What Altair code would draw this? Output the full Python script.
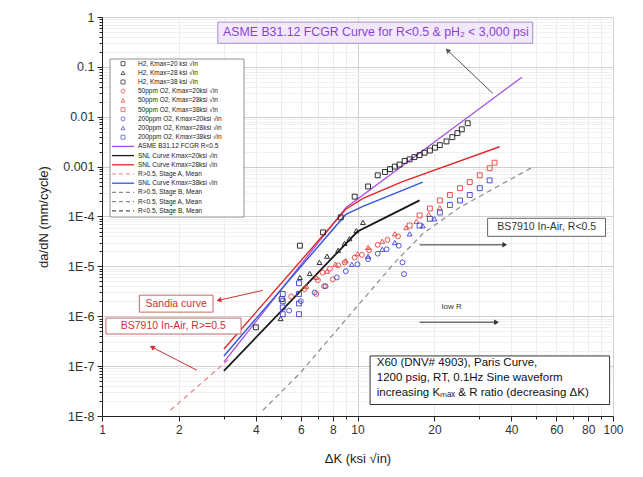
import altair as alt
import pandas as pd

# ---------------- axes ----------------
X_TICKS = [1, 2, 3, 4, 5, 6, 7, 8, 9, 10, 20, 30, 40, 50, 60, 70, 80, 90, 100]
X_LABELED = [1, 2, 4, 6, 8, 10, 20, 40, 60, 80, 100]
Y_DECADES = [1e-8, 1e-7, 1e-6, 1e-5, 1e-4, 1e-3, 1e-2, 1e-1, 1]
Y_TICKS = Y_DECADES + [m * d for d in Y_DECADES[:-1] for m in range(2, 10)]

# ---------------- scatter data (dK ksi*sqrt(in), da/dN mm/cycle) ----------------
H2_K20_DK = [4.0, 5.05, 5.95, 7.33, 8.6, 9.75, 11.0, 12.0]
H2_K20_DA = [6e-7, 2.2e-6, 2.6e-5, 4.8e-5, 9.6e-5, 2.5e-4, 4.0e-4, 6.7e-4]
H2_K28_DK = [5.0, 5.95, 6.5, 7.1, 7.6, 8.4, 8.9, 9.3, 9.9, 10.5]
H2_K28_DA = [9e-7, 6e-6, 7.2e-6, 1.2e-5, 1.6e-5, 2.1e-5, 2.9e-5, 3.6e-5, 5.2e-5, 7.6e-5]
H2_K38_DK = [12.8, 13.4, 14.0, 14.6, 15.3, 16.0, 16.7, 17.5, 18.3, 19.2, 20.1, 21.0, 22.3, 23.5, 24.6, 25.6, 27.0]
H2_K38_DA = [7.8e-4, 8.9e-4, 1.0e-3, 1.1e-3, 1.3e-3, 1.4e-3, 1.55e-3, 1.7e-3, 1.9e-3, 2.1e-3, 2.4e-3, 2.7e-3, 3.2e-3, 3.9e-3, 4.7e-3, 5.6e-3, 7.4e-3]
O50_K20_DK = [5.5, 6.2, 6.9, 7.0, 7.3, 7.4, 7.8, 8.0, 8.4, 8.9, 9.75, 10.4, 11.1, 12.0, 13.1, 14.4]
O50_K20_DA = [2.5e-6, 3.5e-6, 2.8e-6, 5.3e-6, 7.5e-6, 4e-6, 9e-6, 5.5e-6, 1.05e-5, 1.2e-5, 1.5e-5, 1.7e-5, 2.1e-5, 2.7e-5, 3.4e-5, 4.0e-5]
O50_K28_DK = [6.3, 6.9, 7.6, 8.2, 9.0, 10.0, 11.0, 12.5, 14.0, 15.5, 17.0, 19.0, 21.0]
O50_K28_DA = [4e-6, 6e-6, 8e-6, 1.1e-5, 1.3e-5, 1.8e-5, 2.4e-5, 3.2e-5, 4.5e-5, 6e-5, 8e-5, 1.1e-4, 1.5e-4]
O50_K38_DK = [16.0, 17.5, 19.2, 21.0, 23.0, 25.2, 27.5, 30.1, 32.9, 34.4]
O50_K38_DA = [6.6e-5, 1.05e-4, 1.45e-4, 2.1e-4, 2.7e-4, 3.7e-4, 4.9e-4, 6.7e-4, 9.3e-4, 1.2e-3]
O200_K20_DK = [5.4, 6.0, 6.8, 7.5, 8.3, 9.0, 10.0, 11.0, 12.0, 13.0, 14.5, 15.0, 15.2]
O200_K20_DA = [1.3e-6, 2e-6, 3e-6, 4e-6, 6e-6, 8e-6, 1.1e-5, 1.4e-5, 1.8e-5, 2.2e-5, 2.6e-5, 1.2e-5, 7e-6]
O200_K28_DK = [9.5, 11.0, 12.5, 14.0, 16.0, 18.0, 20.0]
O200_K28_DA = [1.1e-5, 1.6e-5, 2.2e-5, 3e-5, 4.5e-5, 6.5e-5, 9e-5]
O200_K38_DK = [5.1, 5.1, 5.1, 5.1, 5.9, 5.9, 5.9, 5.9, 17.5, 19.2, 21.0, 23.0, 25.2, 27.5, 30.1, 32.9]
O200_K38_DA = [1.1e-6, 1.5e-6, 2.0e-6, 2.8e-6, 1.1e-6, 1.8e-6, 2.8e-6, 4.6e-6, 6.6e-5, 9e-5, 1.2e-4, 1.7e-4, 2.1e-4, 2.7e-4, 3.7e-4, 5.3e-4]

# ---------------- curves ----------------
ASME_DK = [3.0, 9.0, 44.0]
ASME_DA = [1.2e-7, 1.5e-4, 0.062]
SNL20_DK = [3.0, 10.0, 12.0, 17.5]
SNL20_DA = [8e-8, 5e-5, 8e-5, 2.1e-4]
SNL28_DK = [3.0, 9.0, 10.5, 15.0, 36.0]
SNL28_DA = [2.2e-7, 1.4e-4, 2.3e-4, 5e-4, 2.5e-3]
SNL38_DK = [3.0, 9.0, 10.5, 18.0]
SNL38_DA = [1.6e-7, 1.1e-4, 1.6e-4, 4.9e-4]
RHI_A_DK = [1.85, 3.2]
RHI_A_DA = [1.3e-8, 1.5e-7]
RLO_DK = [4.26, 5.95, 14.0, 18.0, 25.0, 48.5]
RLO_DA = [1.3e-8, 7.2e-8, 1.2e-5, 4.5e-5, 1.5e-4, 9.8e-4]

LEGEND_LABELS = [
    "H2, Kmax=20 ksi \u221ain", "H2, Kmax=28 ksi \u221ain", "H2, Kmax=38 ksi \u221ain",
    "50ppm O2, Kmax=20ksi \u221ain", "50ppm O2, Kmax=28ksi \u221ain", "50ppm O2, Kmax=38ksi \u221ain",
    "200ppm O2, Kmax=20ksi \u221ain", "200ppm O2, Kmax=28ksi \u221ain", "200ppm O2, Kmax=38ksi \u221ain",
    "ASME B31.12 FCGR R<0.5", "SNL Curve Kmax=20ksi \u221ain", "SNL Curve Kmax=28ksi \u221ain",
    "R>0.5, Stage A, Mean", "SNL Curve Kmax=38ksi \u221ain", "R>0.5, Stage B, Mean",
    "R<0.5, Stage A, Mean", "R<0.5, Stage B, Mean",
]

BLACK, RED, BLUE, PURPLE, PINK, GRAY = "#1a1a1a", "#e8413c", "#4040d8", "#a64ee0", "#e88080", "#8a8a8a"

scatter = [
    (H2_K20_DK, H2_K20_DA, BLACK, "square"), (H2_K28_DK, H2_K28_DA, BLACK, "triangle-up"),
    (H2_K38_DK, H2_K38_DA, BLACK, "square"),
    (O50_K20_DK, O50_K20_DA, RED, "circle"), (O50_K28_DK, O50_K28_DA, RED, "triangle-up"),
    (O50_K38_DK, O50_K38_DA, RED, "square"),
    (O200_K20_DK, O200_K20_DA, BLUE, "circle"), (O200_K28_DK, O200_K28_DA, BLUE, "triangle-up"),
    (O200_K38_DK, O200_K38_DA, BLUE, "square"),
]
rows = []
for i, (dk, da, c, s) in enumerate(scatter):
    for a, b in zip(dk, da):
        rows.append(dict(s=i, dk=a, da=b, col=c, shp=s))
df_pts = pd.DataFrame(rows)

solid = [(ASME_DK, ASME_DA, PURPLE, 1.3), (SNL28_DK, SNL28_DA, "#e02828", 1.4),
         (SNL38_DK, SNL38_DA, "#3355dd", 1.4), (SNL20_DK, SNL20_DA, BLACK, 1.8)]
rows = []
for i, (dk, da, c, w) in enumerate(solid):
    for a, b in zip(dk, da):
        rows.append(dict(s=i, dk=a, da=b, col=c, w=w))
df_solid = pd.DataFrame(rows)

dashed = [(RHI_A_DK, RHI_A_DA, PINK), (RLO_DK, RLO_DA, GRAY)]
rows = []
for i, (dk, da, c) in enumerate(dashed):
    for a, b in zip(dk, da):
        rows.append(dict(s=i, dk=a, da=b, col=c))
df_dash = pd.DataFrame(rows)

# ---------------- annotations ----------------
df_box = pd.DataFrame(dict(
    x1=[2.84, 1.40, 1.036, 32.3, 11.2], x2=[48.5, 2.72, 3.50, 93.5, 97.0],
    y1=[0.79, 2.65e-6, 9.2e-7, 9.2e-5, 1.6e-7], y2=[0.297, 1.21e-6, 4.4e-7, 4.0e-5, 1.7e-8],
    fill=["#f1e8fc", "#ffffff", "#ffffff", "#ffffff", "#ffffff"],
    stroke=["#a58cc8", "#c06a6a", "#c06a6a", "#666666", "#333333"],
))
df_txt = pd.DataFrame(dict(
    dk=[11.8, 1.95, 1.90, 55.0, 23.4],
    da=[0.49, 1.73e-6, 6.3e-7, 6.1e-5, 1.5e-6],
    t=["ASME B31.12 FCGR Curve for R<0.5 & pH\u2082 < 3,000 psi", "Sandia curve",
       "BS7910 In-Air, R>=0.5", "BS7910 In-Air, R<0.5", "low R"],
    col=["#8e3fd6", "#d03030", "#d03030", "#333333", "#333333"],
    fs=[12.3, 10.5, 10.5, 10.5, 8],
))
df_info = pd.DataFrame(dict(
    dk=[11.9, 11.9, 11.9], da=[1.15e-7, 5.8e-8, 2.9e-8],
    t=["X60 (DNV# 4903), Paris Curve,", "1200 psig, RT, 0.1Hz Sine waveform",
       "increasing K\u2098\u2090\u2093 & R ratio (decreasing \u0394K)"],
))
ARROW_FROM_DK = [33.8, 4.26, 2.35, 17.5, 17.5]
ARROW_FROM_DA = [0.0296, 3.3e-6, 8.3e-8, 2.7e-5, 7.6e-7]
ARROW_TO_DK = [22.5, 2.87, 1.57, 37.7, 35.0]
ARROW_TO_DA = [0.215, 2.1e-6, 2.4e-7, 2.7e-5, 7.6e-7]
ARROW_COL = ["#555555", "#d03030", "#d03030", "#333333", "#333333"]
ARROW_ANG = [315, 256, 297, 90, 90]
rows = []
for i in range(len(ARROW_COL)):
    rows.append(dict(s=i, dk=ARROW_FROM_DK[i], da=ARROW_FROM_DA[i], col=ARROW_COL[i], ang=ARROW_ANG[i], head=0))
    rows.append(dict(s=i, dk=ARROW_TO_DK[i], da=ARROW_TO_DA[i], col=ARROW_COL[i], ang=ARROW_ANG[i], head=1))
df_arrow = pd.DataFrame(rows)

# ---------------- encodings ----------------
DEC_Y = "abs(log(datum.value)/LN10 - round(log(datum.value)/LN10)) < 0.01"
DEC_X = "indexof([1,10,100], datum.value) >= 0"
XS = alt.Scale(type="log", domain=[1, 100], nice=False)
YS = alt.Scale(type="log", domain=[1e-8, 1], nice=False)
XAX = alt.Axis(
    values=X_TICKS, title="\u0394K (ksi \u221ain)",
    labelExpr="indexof([1,2,4,6,8,10,20,40,60,80,100], datum.value) >= 0 ? format(datum.value, '~g') : ''",
    grid=True, gridColor={"condition": {"test": DEC_X, "value": "#cfcfcf"}, "value": "#ececec"},
    tickSize={"condition": {"test": "indexof([1,2,4,6,8,10,20,40,60,80,100], datum.value) >= 0", "value": 5}, "value": 3},
    labelFontSize=12, titleFontSize=13, titleFontWeight="normal", labelColor="#333", titleColor="#222",
    domainColor="#222", tickColor="#222", labelPadding=3, titlePadding=17, labelFlush=False,
)
YAX = alt.Axis(
    values=Y_TICKS, title="da/dN (mm/cycle)",
    labelExpr="abs(log(datum.value)/LN10 - round(log(datum.value)/LN10)) > 0.01 ? '' : (datum.value >= 0.001 ? format(datum.value, '~g') : '1E' + round(log(datum.value)/LN10))",
    grid=True, gridColor={"condition": {"test": DEC_Y, "value": "#cfcfcf"}, "value": "#f0f0f0"},
    tickSize={"condition": {"test": DEC_Y, "value": 5}, "value": 3},
    labelFontSize=12.5, titleFontSize=13, titleFontWeight="normal", labelColor="#333", titleColor="#222",
    domainColor="#222", tickColor="#222", labelPadding=3, titlePadding=12, labelFlush=False,
)
X = alt.X("dk:Q", scale=XS, axis=XAX)
Y = alt.Y("da:Q", scale=YS, axis=YAX)

pts = alt.Chart(df_pts).mark_point(filled=False, size=24, strokeWidth=1, opacity=0.9).encode(
    x=X, y=Y, color=alt.Color("col:N", scale=None), shape=alt.Shape("shp:N", scale=None))
lines = alt.Chart(df_solid).mark_line(clip=True).encode(
    x=X, y=Y, detail="s:N", color=alt.Color("col:N", scale=None), strokeWidth=alt.StrokeWidth("w:Q", scale=None))
dlines = alt.Chart(df_dash).mark_line(strokeDash=[5, 4], strokeWidth=1.2, clip=True).encode(
    x=X, y=Y, detail="s:N", color=alt.Color("col:N", scale=None))
boxes = alt.Chart(df_box).mark_rect(strokeWidth=1).encode(
    x=alt.X("x1:Q", scale=XS, axis=XAX), x2="x2:Q", y=alt.Y("y1:Q", scale=YS, axis=YAX), y2="y2:Q",
    fill=alt.Fill("fill:N", scale=None), stroke=alt.Stroke("stroke:N", scale=None))
texts = alt.Chart(df_txt).mark_text(font="Liberation Sans", baseline="middle").encode(
    x=X, y=Y, text="t:N", color=alt.Color("col:N", scale=None), size=alt.Size("fs:Q", scale=None))
info = alt.Chart(df_info).mark_text(font="Liberation Sans", align="left", baseline="middle", fontSize=11.5, color="#111").encode(
    x=X, y=Y, text="t:N")
arrow_l = alt.Chart(df_arrow).mark_line(strokeWidth=1).encode(
    x=X, y=Y, detail="s:N", color=alt.Color("col:N", scale=None))
arrow_h = alt.Chart(df_arrow).transform_filter("datum.head == 1").mark_point(
    shape="triangle-up", filled=True, size=30, opacity=1).encode(
    x=X, y=Y, color=alt.Color("col:N", scale=None), angle=alt.Angle("ang:Q", scale=None))

# ---------------- legend (inside the plot, top-left) ----------------
LEG_COL = [BLACK] * 3 + [RED] * 3 + [BLUE] * 3 + [PURPLE, BLACK, "#e02828", PINK, "#3355dd", GRAY, GRAY, "#555555"]
LEG_SHP = ["square", "triangle-up", "square", "circle", "triangle-up", "square", "circle", "triangle-up", "square"] + [""] * 8
LEG_DASH = [0] * 9 + [0, 0, 0, 1, 0, 1, 1, 1]
df_leg = pd.DataFrame(dict(row=list(range(17)), label=LEGEND_LABELS, col=LEG_COL, shp=LEG_SHP, dash=LEG_DASH))
ROWY = "42 + (datum.row + 0.5) * 9.2"
leg_box = alt.Chart(pd.DataFrame({"a": [0]})).mark_rect(fill="white", stroke="#777", strokeWidth=0.8).encode(
    x=alt.value(8), x2=alt.value(142), y=alt.value(42), y2=alt.value(200))
leg_pts = alt.Chart(df_leg).transform_filter("datum.row < 9").transform_calculate(py=ROWY).mark_point(
    filled=False, size=16, strokeWidth=1).encode(
    x=alt.value(21), y=alt.Y("py:Q", scale=None), color=alt.Color("col:N", scale=None), shape=alt.Shape("shp:N", scale=None))
leg_solid = alt.Chart(df_leg).transform_filter("datum.row >= 9 && datum.dash == 0").transform_calculate(py=ROWY).mark_rule(
    strokeWidth=1.3).encode(x=alt.value(10), x2=alt.value(32), y=alt.Y("py:Q", scale=None), color=alt.Color("col:N", scale=None))
leg_dash = alt.Chart(df_leg).transform_filter("datum.row >= 9 && datum.dash == 1").transform_calculate(py=ROWY).mark_rule(
    strokeWidth=1.2, strokeDash=[4, 3]).encode(x=alt.value(10), x2=alt.value(32), y=alt.Y("py:Q", scale=None), color=alt.Color("col:N", scale=None))
leg_txt = alt.Chart(df_leg).transform_calculate(py=ROWY).mark_text(
    align="left", baseline="middle", fontSize=6.5, font="Liberation Sans", color="#222").encode(
    x=alt.value(36), y=alt.Y("py:Q", scale=None), text="label:N")

chart = alt.layer(
    dlines, lines, pts, boxes, texts, info, arrow_l, arrow_h,
    leg_box, leg_pts, leg_solid, leg_dash, leg_txt,
).properties(
    width=511, height=399,
    autosize=alt.AutoSizeParams(type="none"),
    padding={"left": 94, "top": 9, "right": 22, "bottom": 53},
).configure_view(stroke="#222", strokeWidth=1.3).configure(background="white", font="Liberation Sans")

chart.save("out.html", embed_options={"renderer": "svg", "actions": False})
